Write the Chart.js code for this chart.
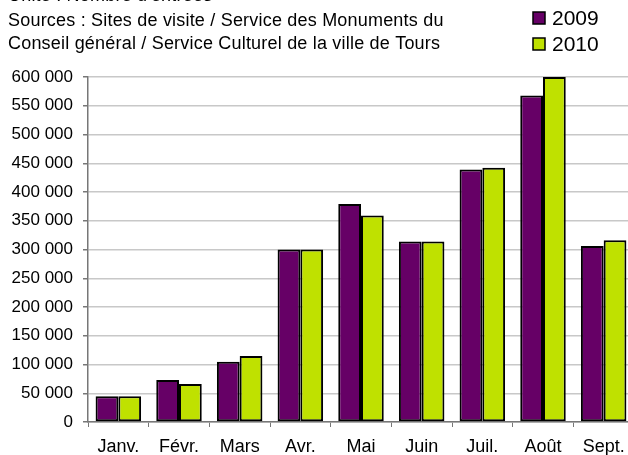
<!DOCTYPE html>
<html lang="fr">
<head>
<meta charset="UTF-8">
<script src="https://cdn.jsdelivr.net/npm/chart.js"></script>
<title>Entrées</title>
<style>
  body { margin: 0; overflow: hidden; background: #fff; }
  #wrap { width: 628px; height: 455px; overflow: hidden; }
</style>
</head>
<body>
<div id="wrap"><canvas id="barres" width="634" height="455"></canvas></div>
<script>
// données
const mois = ['Janv.', 'Févr.', 'Mars', 'Avr.', 'Mai', 'Juin', 'Juil.', 'Août', 'Sept.'];
const entrees2009 = [45000, 73000, 105000, 300000, 379000, 314000, 439000, 568000, 306000];
const entrees2010 = [45000, 66000, 115000, 300000, 359000, 314000, 442000, 600000, 316000];
const annees = ['2009', '2010'];
const couleurs = ['#660066', '#bfe100'];
const entete = [
    'Unité : Nombre d\'entrées',
    'Sources : Sites de visite / Service des Monuments du',
    'Conseil général / Service Culturel de la ville de Tours'
];

const police = 'Liberation Sans, Arial, sans-serif';

// texte du haut + légende dessinés à la main
const enTete = {
    id: 'enTete',
    afterDraw(chart) {
        const c = chart.ctx;
        c.save();
        c.fillStyle = '#000';
        c.font = '18px ' + police;
        c.letterSpacing = '0.2px';
        c.textBaseline = 'middle';
        c.textAlign = 'left';
        c.fillText(entete[0], 8, -4);
        c.fillText(entete[1], 8, 21);
        c.fillText(entete[2], 8, 44);

        c.letterSpacing = '0px';
        c.font = '21px ' + police;
        for (let i = 0; i < annees.length; i++) {
            const y = 18 + i * 26;
            c.fillStyle = couleurs[i];
            c.fillRect(533, y - 6, 12, 12);
            c.strokeStyle = '#000';
            c.lineWidth = 1.5;
            c.strokeRect(533, y - 6, 12, 12);
            c.fillStyle = '#000';
            c.fillText(annees[i], 552, y + 1);
        }
        c.restore();
    }
};

new Chart(document.getElementById('barres'), {
    type: 'bar',
    data: {
        labels: mois,
        datasets: [
            { label: annees[0], data: entrees2009, backgroundColor: couleurs[0], borderColor: '#000', borderWidth: 2, borderSkipped: false },
            { label: annees[1], data: entrees2010, backgroundColor: couleurs[1], borderColor: '#000', borderWidth: 2, borderSkipped: false }
        ]
    },
    options: {
        responsive: false,
        animation: false,
        layout: { padding: { top: 77, right: 0, left: 0, bottom: 0 } },
        datasets: { bar: { barPercentage: 1, categoryPercentage: 0.75 } },
        plugins: { legend: { display: false }, tooltip: { enabled: false } },
        scales: {
            x: {
                grid: { drawOnChartArea: false, tickLength: 5, tickColor: '#777' },
                border: { color: '#777', width: 1.5 },
                ticks: { color: '#000', font: { family: police, size: 18 }, padding: 9 },
                afterFit(s) { s.height = 33; }
            },
            y: {
                min: 0,
                max: 600000,
                ticks: {
                    stepSize: 50000,
                    color: '#000',
                    padding: 10,
                    font: { family: police, size: 17 },
                    callback: v => v.toString().replace(/\B(?=(\d{3})+(?!\d))/g, ' ')
                },
                grid: { color: '#c8c8c8', tickLength: 5, tickColor: '#777', lineWidth: 1.5 },
                border: { color: '#777', width: 1.5 },
                afterFit(s) { s.width = 88; }
            }
        }
    },
    plugins: [enTete]
});
</script>
</body>
</html>
